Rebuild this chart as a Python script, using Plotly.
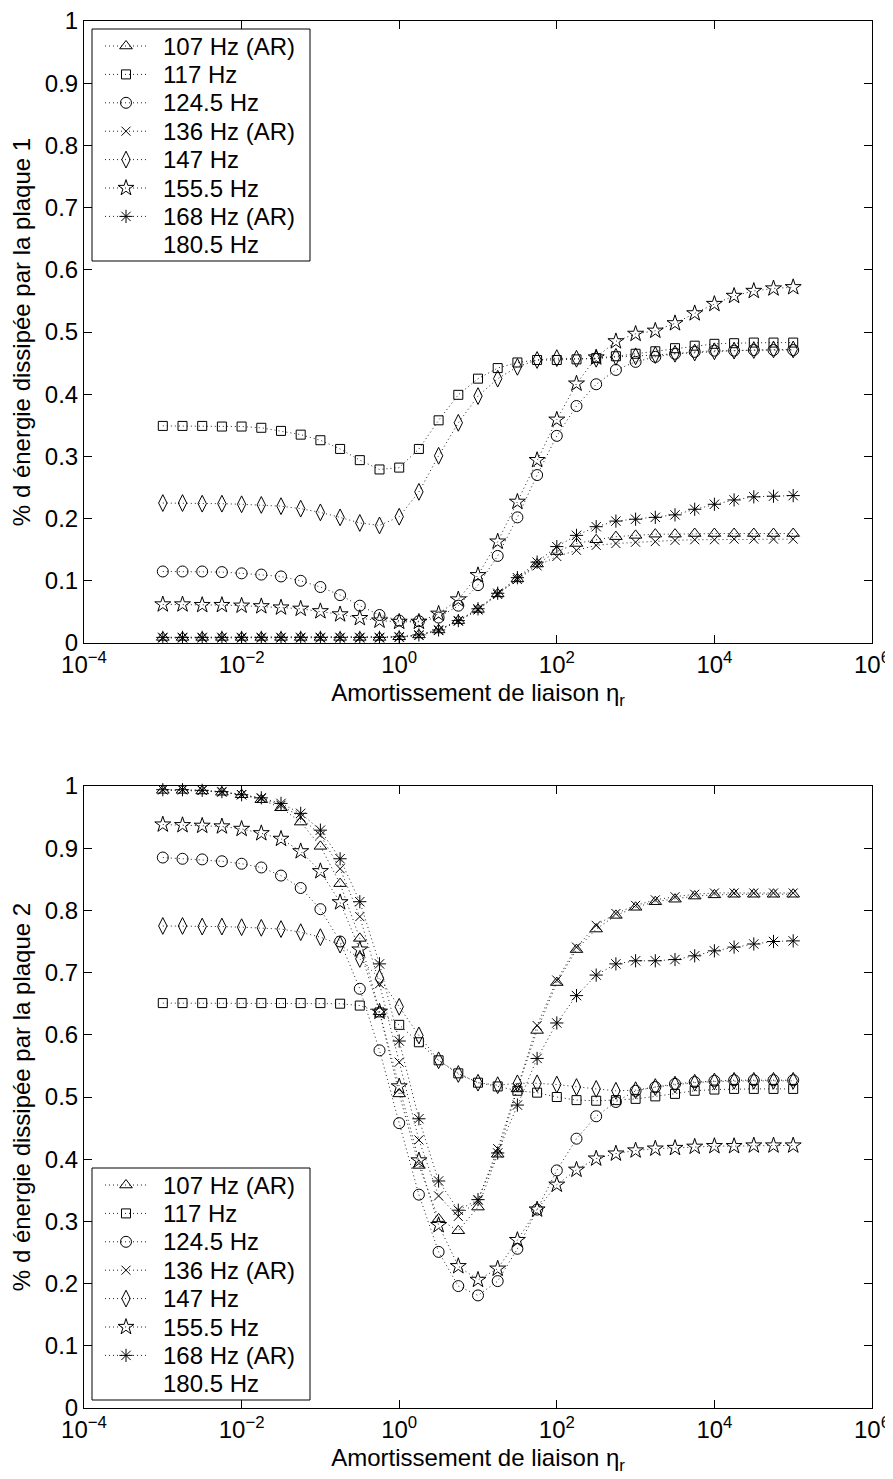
import plotly.graph_objects as go

# Damping values (log-spaced, 4 per decade)
eta = [1e-3, 1.7783e-3, 3.1623e-3, 5.6234e-3, 1e-2, 1.7783e-2, 3.1623e-2, 5.6234e-2,
       1e-1, 0.17783, 0.31623, 0.56234, 1.0, 1.7783, 3.1623, 5.6234,
       10.0, 17.783, 31.623, 56.234, 100.0, 177.83, 316.23, 562.34,
       1e3, 1778.3, 3162.3, 5623.4, 1e4, 17783.0, 31623.0, 56234.0, 1e5]

labels = ["107 Hz (AR)", "117 Hz", "124.5 Hz", "136 Hz (AR)", "147 Hz",
          "155.5 Hz", "168 Hz (AR)", "180.5 Hz"]

# Plaque 1
p1_107 = [0.009, 0.009, 0.009, 0.009, 0.009, 0.009, 0.009, 0.009, 0.009, 0.009, 0.009, 0.009,
          0.010, 0.013, 0.021, 0.036, 0.054, 0.079, 0.103, 0.127, 0.147, 0.160, 0.166, 0.171,
          0.173, 0.175, 0.175, 0.176, 0.176, 0.176, 0.176, 0.176, 0.176]
p1_117 = [0.349, 0.349, 0.349, 0.348, 0.348, 0.346, 0.341, 0.335, 0.326, 0.312, 0.294, 0.279,
          0.282, 0.312, 0.358, 0.399, 0.425, 0.442, 0.451, 0.455, 0.455, 0.456, 0.458, 0.461,
          0.465, 0.469, 0.474, 0.478, 0.481, 0.482, 0.483, 0.483, 0.483]
p1_1245 = [0.115, 0.115, 0.115, 0.114, 0.112, 0.110, 0.107, 0.100, 0.090, 0.077, 0.060, 0.045,
           0.036, 0.035, 0.041, 0.060, 0.093, 0.140, 0.202, 0.270, 0.333, 0.381, 0.416, 0.439,
           0.452, 0.460, 0.465, 0.468, 0.470, 0.470, 0.471, 0.471, 0.471]
p1_136 = [0.008, 0.008, 0.008, 0.008, 0.008, 0.008, 0.008, 0.008, 0.008, 0.008, 0.008, 0.008,
          0.009, 0.012, 0.020, 0.035, 0.053, 0.078, 0.102, 0.124, 0.139, 0.149, 0.157, 0.160,
          0.162, 0.163, 0.165, 0.166, 0.166, 0.167, 0.167, 0.167, 0.167]
p1_147 = [0.225, 0.225, 0.224, 0.224, 0.223, 0.222, 0.220, 0.216, 0.210, 0.202, 0.193, 0.189,
          0.203, 0.243, 0.301, 0.354, 0.397, 0.425, 0.444, 0.455, 0.458, 0.457, 0.457, 0.460,
          0.461, 0.463, 0.465, 0.467, 0.469, 0.470, 0.471, 0.472, 0.472]
p1_1555 = [0.062, 0.062, 0.061, 0.061, 0.060, 0.059, 0.057, 0.055, 0.051, 0.046, 0.040, 0.036,
           0.034, 0.034, 0.047, 0.070, 0.109, 0.163, 0.227, 0.294, 0.359, 0.417, 0.459, 0.485,
           0.497, 0.502, 0.514, 0.530, 0.545, 0.558, 0.566, 0.570, 0.572]
p1_168 = [0.009, 0.009, 0.009, 0.009, 0.009, 0.009, 0.009, 0.009, 0.009, 0.009, 0.009, 0.009,
          0.010, 0.013, 0.021, 0.036, 0.055, 0.080, 0.105, 0.130, 0.155, 0.173, 0.187, 0.196,
          0.199, 0.202, 0.206, 0.215, 0.223, 0.230, 0.235, 0.236, 0.237]

# Plaque 2
p2_107 = [0.993, 0.993, 0.992, 0.990, 0.986, 0.978, 0.965, 0.942, 0.903, 0.843, 0.755, 0.637,
          0.505, 0.390, 0.304, 0.285, 0.323, 0.408, 0.513, 0.607, 0.684, 0.737, 0.770, 0.792,
          0.805, 0.814, 0.818, 0.823, 0.825, 0.826, 0.826, 0.826, 0.826]
p2_117 = [0.651, 0.651, 0.651, 0.651, 0.651, 0.651, 0.651, 0.651, 0.651, 0.650, 0.647, 0.636,
          0.616, 0.588, 0.559, 0.538, 0.523, 0.517, 0.510, 0.507, 0.500, 0.495, 0.494, 0.495,
          0.497, 0.501, 0.505, 0.510, 0.512, 0.513, 0.513, 0.513, 0.513]
p2_1245 = [0.885, 0.883, 0.882, 0.879, 0.875, 0.869, 0.856, 0.836, 0.802, 0.750, 0.674, 0.575,
           0.458, 0.343, 0.251, 0.196, 0.181, 0.204, 0.256, 0.319, 0.382, 0.433, 0.469, 0.492,
           0.510, 0.516, 0.521, 0.524, 0.526, 0.527, 0.527, 0.527, 0.527]
p2_136 = [0.994, 0.994, 0.993, 0.990, 0.986, 0.980, 0.969, 0.950, 0.921, 0.867, 0.790, 0.682,
          0.556, 0.431, 0.341, 0.308, 0.334, 0.417, 0.515, 0.615, 0.688, 0.741, 0.776, 0.795,
          0.808, 0.817, 0.822, 0.826, 0.828, 0.828, 0.828, 0.828, 0.828]
p2_147 = [0.775, 0.775, 0.774, 0.774, 0.773, 0.772, 0.770, 0.765, 0.757, 0.745, 0.722, 0.691,
          0.645, 0.599, 0.559, 0.537, 0.523, 0.519, 0.522, 0.522, 0.520, 0.516, 0.513, 0.510,
          0.511, 0.516, 0.520, 0.523, 0.525, 0.526, 0.526, 0.526, 0.526]
p2_1555 = [0.938, 0.937, 0.936, 0.935, 0.931, 0.924, 0.915, 0.895, 0.863, 0.813, 0.737, 0.637,
           0.517, 0.398, 0.294, 0.228, 0.206, 0.224, 0.270, 0.319, 0.359, 0.383, 0.401, 0.409,
           0.414, 0.417, 0.418, 0.420, 0.421, 0.421, 0.422, 0.422, 0.422]
p2_168 = [0.994, 0.994, 0.993, 0.991, 0.986, 0.981, 0.972, 0.956, 0.929, 0.883, 0.814, 0.714,
          0.590, 0.465, 0.365, 0.318, 0.335, 0.410, 0.487, 0.562, 0.619, 0.663, 0.696, 0.714,
          0.719, 0.719, 0.721, 0.727, 0.735, 0.741, 0.746, 0.750, 0.751]

plaque1 = [p1_107, p1_117, p1_1245, p1_136, p1_147, p1_1555, p1_168]
plaque2 = [p2_107, p2_117, p2_1245, p2_136, p2_147, p2_1555, p2_168]

symbols = ["triangle-up-open", "square-open", "circle-open", "x-thin-open",
           "diamond-tall-open", "star-open", "asterisk-open"]
sizes = [11, 9, 11, 9, 12, 12, 11]

FONT = "Liberation Sans, Arial, Helvetica, sans-serif"
FS = 24

# ---- page geometry (page pixels; the page body has an 8px margin) ----
OFF = 8
W, H = 893 - OFF, 1479 - OFF
PL, PR = 84, 872               # plot left/right (page px)
top_px = (21, 643)             # top plot: top/bottom (page px)
bot_px = (786, 1408)           # bottom plot: top/bottom (page px)
ML = PL - OFF
MR = W - (PR - OFF)
MT = top_px[0] - OFF
MB = H - (bot_px[1] - OFF)
PH = H - MT - MB


def dom(px):
    return [((bot_px[1]) - px[1]) / PH, ((bot_px[1]) - px[0]) / PH]


LINE = dict(color="#222222", width=1, dash="1px,3px")

fig = go.Figure()

for xa, ya, data in [("x", "y", plaque1), ("x2", "y2", plaque2)]:
    for j, vals in enumerate(data):
        fig.add_trace(go.Scatter(
            x=eta, y=vals, xaxis=xa, yaxis=ya, name=labels[j], showlegend=False,
            mode="lines+markers", cliponaxis=False, line=LINE,
            marker=dict(symbol=symbols[j], size=sizes[j], color="black",
                        line=dict(color="black", width=1)),
        ))

# ---- hand-built legends (MATLAB style) on pixel-unit overlay axes ----
annotations = []
for xa, ya, box_top in [("x3", "y3", 29), ("x4", "y4", 1168)]:
    box_bot = box_top + 232
    fig.add_trace(go.Scatter(
        x=[92, 310, 310, 92, 92], y=[box_top, box_top, box_bot, box_bot, box_top],
        xaxis=xa, yaxis=ya, mode="lines", fill="toself", fillcolor="white",
        line=dict(color="black", width=1), showlegend=False, hoverinfo="skip"))
    for i, lab in enumerate(labels):
        yc = box_top + 17 + 28.4 * i
        if i < 7:
            fig.add_trace(go.Scatter(
                x=[105, 147], y=[yc, yc], xaxis=xa, yaxis=ya, mode="lines",
                line=LINE, showlegend=False, hoverinfo="skip"))
            fig.add_trace(go.Scatter(
                x=[126], y=[yc], xaxis=xa, yaxis=ya, mode="markers",
                marker=dict(symbol=symbols[i], size=sizes[i], color="black",
                            line=dict(color="black", width=1)),
                showlegend=False, hoverinfo="skip"))
        annotations.append(dict(
            x=161, y=yc, xref=xa, yref=ya, text=lab, showarrow=False,
            xanchor="left", yanchor="middle",
            font=dict(size=FS, family=FONT, color="black")))

tickvals = [1e-4, 1e-2, 1, 1e2, 1e4, 1e6]
ticktext = ["10<sup>−4</sup>", "10<sup>−2</sup>", "10<sup>0</sup>",
            "10<sup>2</sup>", "10<sup>4</sup>", "10<sup>6</sup>"]

xcommon = dict(type="log", range=[-4, 6], tickvals=tickvals, ticktext=ticktext,
               showline=True, linecolor="black", linewidth=1, mirror="ticks",
               ticks="inside", ticklen=8, tickcolor="black", showgrid=False,
               zeroline=False, automargin=False, ticklabeloverflow="allow",
               tickfont=dict(size=FS, family=FONT, color="black"),
               title=dict(text="Amortissement de liaison η<sub>r</sub>",
                          font=dict(size=FS, family=FONT, color="black"), standoff=7))
ycommon = dict(range=[0, 1], tickvals=[0, 0.1, 0.2, 0.3, 0.4, 0.5, 0.6, 0.7, 0.8, 0.9, 1],
               ticktext=["0", "0.1", "0.2", "0.3", "0.4", "0.5", "0.6", "0.7", "0.8", "0.9", "1"],
               showline=True, linecolor="black", linewidth=1, mirror="ticks",
               ticks="inside", ticklen=8, tickcolor="black", showgrid=False,
               zeroline=False, automargin=False, ticklabeloverflow="allow",
               tickfont=dict(size=FS, family=FONT, color="black"))
hidden = dict(visible=False, showgrid=False, zeroline=False, fixedrange=True)

fig.update_layout(
    width=W, height=H,
    margin=dict(l=ML, r=MR, t=MT, b=MB),
    paper_bgcolor="white", plot_bgcolor="white",
    font=dict(family=FONT, size=FS, color="black"),
    showlegend=False,
    xaxis=dict(domain=[0, 1], anchor="y", **xcommon),
    yaxis=dict(domain=dom(top_px), anchor="x",
               title=dict(text="% d énergie dissipée par la plaque 1",
                          font=dict(size=FS, family=FONT, color="black"), standoff=7),
               **ycommon),
    xaxis2=dict(domain=[0, 1], anchor="y2", **xcommon),
    yaxis2=dict(domain=dom(bot_px), anchor="x2",
                title=dict(text="% d énergie dissipée par la plaque 2",
                           font=dict(size=FS, family=FONT, color="black"), standoff=7),
                **ycommon),
    xaxis3=dict(overlaying="x", range=[PL, PR], anchor="y3", **hidden),
    yaxis3=dict(overlaying="y", range=[top_px[1], top_px[0]], anchor="x3", **hidden),
    xaxis4=dict(overlaying="x2", range=[PL, PR], anchor="y4", **hidden),
    yaxis4=dict(overlaying="y2", range=[bot_px[1], bot_px[0]], anchor="x4", **hidden),
    annotations=annotations,
)

fig.write_html("out.html")
